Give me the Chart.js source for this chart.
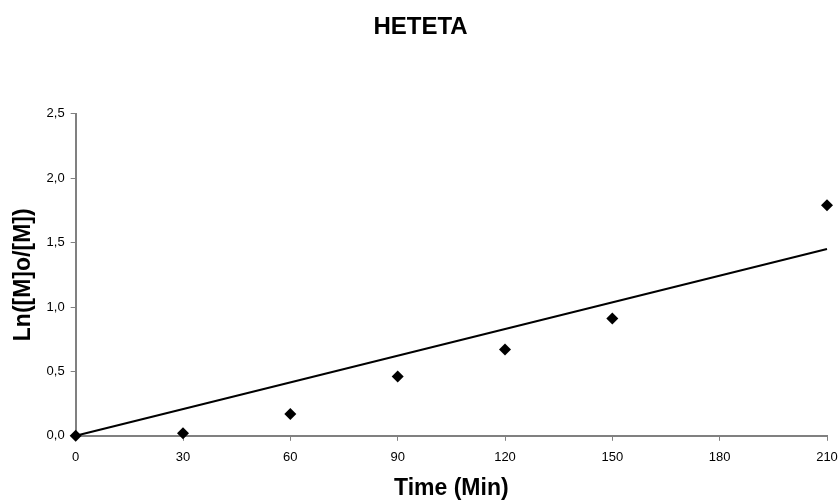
<!DOCTYPE html>
<html>
<head>
<meta charset="utf-8">
<script src="https://cdn.jsdelivr.net/npm/chart.js@4/dist/chart.umd.min.js"></script>
<style>
  html, body { margin: 0; padding: 0; background: #fff; }
  #chart { display: block; }
</style>
</head>
<body>
<canvas id="chart" width="838" height="500"></canvas>
<script>
// Measured data (time in min, ln([M]o/[M]))
const timeValues = [0, 30, 60, 90, 120, 150, 210];
const lnValues = [0.0, 0.02, 0.17, 0.46, 0.67, 0.91, 1.79];

// Linear trend line end points
const trendTimes = [0, 210];
const trendValues = [0.0, 1.45];

const xTicks = [0, 30, 60, 90, 120, 150, 180, 210];
const yTicks = [0, 0.5, 1.0, 1.5, 2.0, 2.5];

const axisGray = '#808080';
const fontFamily = '"Liberation Sans", Arial, sans-serif';

const points = timeValues.map((t, i) => ({ x: t, y: lnValues[i] }));
const trend = trendTimes.map((t, i) => ({ x: t, y: trendValues[i] }));

const ctx = document.getElementById('chart').getContext('2d');
new Chart(ctx, {
    type: 'scatter',
    data: {
        datasets: [{
            label: 'Data',
            data: points,
            pointStyle: 'rectRot',
            pointRadius: 6,
            backgroundColor: '#000',
            borderColor: '#000',
            borderWidth: 0,
            clip: false
        }, {
            label: 'Trend',
            data: trend,
            showLine: true,
            pointRadius: 0,
            borderColor: '#000',
            borderWidth: 2,
            clip: false
        }]
    },
    options: {
        responsive: false,
        animation: false,
        layout: {
            padding: { left: 3, right: 0, top: 0, bottom: -2 }
        },
        plugins: {
            legend: { display: false },
            tooltip: { enabled: false },
            title: {
                display: true,
                text: 'HETETA',
                color: '#000',
                font: { family: fontFamily, size: 24, weight: 'bold' },
                padding: { top: 13, bottom: 72 }
            }
        },
        scales: {
            x: {
                type: 'linear',
                min: xTicks[0],
                max: xTicks[xTicks.length - 1],
                afterBuildTicks: axis => { axis.ticks = xTicks.map(v => ({ value: v })); },
                // only leave room for half of the last label on the right
                afterFit: axis => { axis.paddingRight = 11; },
                grid: { drawOnChartArea: false, drawTicks: true, tickLength: 5, color: axisGray },
                border: { color: axisGray, width: 2 },
                ticks: {
                    color: '#000',
                    font: { family: fontFamily, size: 13 },
                    padding: 9,
                    maxRotation: 0
                },
                title: {
                    display: true,
                    text: 'Time (Min)',
                    color: '#000',
                    font: { family: fontFamily, size: 23, weight: 'bold' },
                    padding: { top: 0, bottom: 0 }
                }
            },
            y: {
                type: 'linear',
                min: yTicks[0],
                max: yTicks[yTicks.length - 1],
                afterBuildTicks: axis => { axis.ticks = yTicks.map(v => ({ value: v })); },
                grid: { drawOnChartArea: false, drawTicks: true, tickLength: 5, color: axisGray },
                border: { color: axisGray, width: 2 },
                ticks: {
                    color: '#000',
                    font: { family: fontFamily, size: 13 },
                    padding: 6,
                    callback: v => v.toFixed(1).replace('.', ',')
                },
                title: {
                    display: true,
                    text: 'Ln([M]o/[M])',
                    color: '#000',
                    font: { family: fontFamily, size: 23, weight: 'bold' },
                    padding: { top: 7, bottom: 3 }
                }
            }
        }
    }
});
</script>
</body>
</html>
